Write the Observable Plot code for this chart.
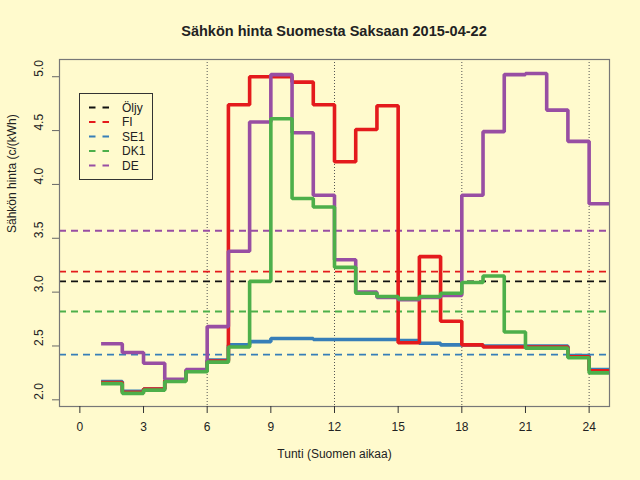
<!DOCTYPE html>
<html>
<head>
<meta charset="utf-8">
<script src="https://cdn.jsdelivr.net/npm/d3@7"></script>
<script src="https://cdn.jsdelivr.net/npm/@observablehq/plot@0.6"></script>
<style>
  html, body { margin: 0; padding: 0; background: #fffacd; }
  #wrap { position: relative; width: 640px; height: 480px; background: #fffacd; font-family: "Liberation Sans", Arial, sans-serif; }
  #title { position: absolute; left: 59px; width: 550px; top: 22px; text-align: center; font-weight: bold; font-size: 14.5px; line-height: 18px; color: #222; }
  #chart { position: absolute; left: 0; top: 0; }
  #legend { position: absolute; left: 79px; top: 93px; }
</style>
</head>
<body>
<div id="wrap">
  <div id="chart"></div>
  <div id="title"></div>
  <div id="legend"></div>
</div>
<script>
const titleText = "Sähkön hinta Suomesta Saksaan 2015-04-22";
const xLabel = "Tunti (Suomen aikaa)";
const yLabel = "Sähkön hinta (c/(kWh)";

const hours = [1, 2, 3, 4, 5, 6, 7, 8, 9, 10, 11, 12, 13, 14, 15, 16, 17, 18, 19, 20, 21, 22, 23, 24];
const fi  = [2.16, 2.07, 2.10, 2.18, 2.27, 2.36, 4.74, 5.00, 5.00, 4.95, 4.74, 4.21, 4.51, 4.73, 2.53, 3.33, 2.73, 2.51, 2.49, 2.49, 2.49, 2.49, 2.40, 2.27];
const se1 = [2.17, 2.08, 2.10, 2.18, 2.27, 2.37, 2.51, 2.54, 2.57, 2.57, 2.56, 2.56, 2.56, 2.56, 2.55, 2.525, 2.51, 2.51, 2.50, 2.50, 2.50, 2.50, 2.41, 2.28];
const dk1 = [2.15, 2.06, 2.09, 2.17, 2.26, 2.35, 2.49, 3.10, 4.61, 3.87, 3.79, 3.23, 2.99, 2.96, 2.94, 2.96, 2.99, 3.09, 3.15, 2.63, 2.48, 2.48, 2.39, 2.25];
const de  = [2.52, 2.44, 2.34, 2.19, 2.28, 2.68, 3.38, 4.58, 5.02, 4.48, 3.90, 3.30, 3.00, 2.95, 2.93, 2.95, 2.97, 3.90, 4.49, 5.02, 5.03, 4.69, 4.40, 3.82];

const seriesNames = ["Öljy", "FI", "SE1", "DK1", "DE"];
const seriesColors = ["#111111", "#e41a1c", "#377eb8", "#4daf4a", "#984ea3"];
const refValues = [3.10, 3.19, 2.42, 2.82, 3.57];

const xTicks = [0, 3, 6, 9, 12, 15, 18, 21, 24];
const yTicks = [2.0, 2.5, 3.0, 3.5, 4.0, 4.5, 5.0];
const gridHours = [6, 12, 18, 24];

// step table: each hour value spans [h, h+1)
function stepRows(name, vals) {
  const rows = hours.map((h, i) => ({name, x: h, y: vals[i]}));
  rows.push({name, x: hours[hours.length - 1] + 1, y: vals[vals.length - 1]});
  return rows;
}
const drawOrder = [["SE1", se1], ["FI", fi], ["DE", de], ["DK1", dk1]];
const colorOf = Object.fromEntries(seriesNames.map((n, i) => [n, seriesColors[i]]));
const refs = seriesNames.map((n, i) => ({name: n, y: refValues[i]}));

const stepMarks = drawOrder.map(([n, v]) =>
  Plot.line(stepRows(n, v), {x: "x", y: "y", curve: "step-after", stroke: colorOf[n], strokeWidth: 3.6, clip: true, strokeLinejoin: "miter", strokeLinecap: "butt"})
);

const chart = Plot.plot({
  width: 640,
  height: 480,
  marginLeft: 59,
  marginRight: 31,
  marginTop: 59,
  marginBottom: 74,
  style: {background: "transparent", fontFamily: "Liberation Sans, Arial, sans-serif", fontSize: "12px", color: "#222"},
  x: {domain: [-0.96, 24.96], axis: null},
  y: {domain: [1.938, 5.16], axis: null},
  marks: [
    Plot.ruleX(gridHours, {stroke: "#555", strokeDasharray: "1,2", strokeWidth: 1}),
    Plot.ruleY(refs, {y: "y", stroke: d => colorOf[d.name], strokeWidth: 1.8, strokeDasharray: "7,5"}),
    ...stepMarks,
    Plot.frame({stroke: "#777", strokeWidth: 1.2}),
    Plot.axisX({ticks: xTicks, tickSize: 7, tickPadding: 9, tickFormat: d => String(d), stroke: "#333", label: null, fontSize: 12}),
    Plot.axisY({ticks: yTicks, tickSize: 7, tickFormat: () => "", stroke: "#666", label: null}),
    Plot.text(yTicks, {y: d => d, text: d => d3.format(".1f")(d), frameAnchor: "left", dx: -20, rotate: -90, fontSize: 12, fill: "#222"}),
    Plot.text([yLabel], {text: d => d, frameAnchor: "left", dx: -47, rotate: -90, fontSize: 12, fill: "#222"}),
    Plot.text([xLabel], {text: d => d, frameAnchor: "bottom", dy: 51, fontSize: 12, fill: "#222"})
  ]
});
document.getElementById("chart").appendChild(chart);
// darker bottom border line like the base axis line
document.getElementById("title").textContent = titleText;

// legend
const lg = d3.select("#legend").append("svg").attr("width", 75).attr("height", 88);
lg.append("rect").attr("x", 0.5).attr("y", 0.5).attr("width", 73).attr("height", 86)
  .attr("fill", "none").attr("stroke", "#333").attr("stroke-width", 1);
seriesNames.forEach((n, i) => {
  const cy = 14.5 + i * 14.5;
  lg.append("line").attr("x1", 10).attr("x2", 30).attr("y1", cy).attr("y2", cy)
    .attr("stroke", seriesColors[i]).attr("stroke-width", 1.8).attr("stroke-dasharray", "6.5,7");
  lg.append("text").attr("x", 43).attr("y", cy).attr("dy", "0.36em")
    .attr("font-family", "Liberation Sans, Arial, sans-serif").attr("font-size", 12).attr("fill", "#222").text(n);
});
</script>
</body>
</html>
